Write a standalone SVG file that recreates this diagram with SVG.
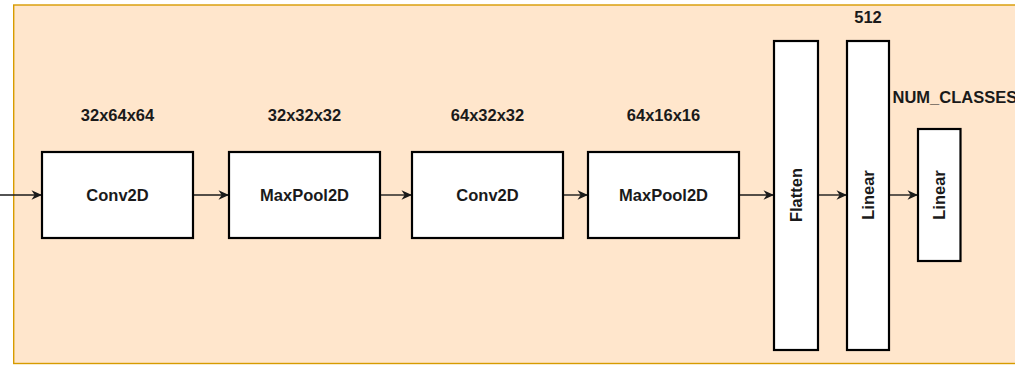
<svg xmlns="http://www.w3.org/2000/svg" width="1015" height="367" viewBox="0 0 1015 367">
  <style>
    .frame { fill: #ffe6cc; stroke: #d79b00; stroke-width: 1.4; }
    .layer { fill: #ffffff; stroke: #000000; stroke-width: 2.2; }
    .lbl { font-family: "Liberation Sans", Arial, Helvetica, sans-serif; font-size: 16.5px; font-weight: bold; fill: #1a1a1a; }
    .mid { text-anchor: middle; dominant-baseline: central; }
    .edge { fill: none; stroke: #1a1a1a; stroke-width: 1.4; marker-end: url(#arrow); }
  </style>
  <defs>
    <marker id="arrow" viewBox="0 0 10 10" refX="10" refY="5" markerWidth="11" markerHeight="10.5" markerUnits="userSpaceOnUse" orient="auto">
      <path d="M0,0.5 L10,5 L0,9.5 L3,5 Z" fill="#1a1a1a"/>
    </marker>
  </defs>

  <!-- background container -->
  <rect id="container" class="frame" x="13.7" y="5" width="1020" height="358.5"/>

  <!-- shape annotations -->
  <g id="shape-labels">
    <text class="lbl mid" x="117.5" y="115">32x64x64</text>
    <text class="lbl mid" x="304.5" y="115">32x32x32</text>
    <text class="lbl mid" x="487.5" y="115">64x32x32</text>
    <text class="lbl mid" x="663.5" y="115">64x16x16</text>
    <text class="lbl mid" x="868" y="17">512</text>
    <text class="lbl" x="892.5" y="97" dominant-baseline="central">NUM_CLASSES</text>
  </g>

  <!-- connectors -->
  <g id="connectors">
    <path class="edge" d="M0,195 L42,195"/>
    <path class="edge" d="M193,195 L229,195"/>
    <path class="edge" d="M380,195 L412,195"/>
    <path class="edge" d="M563,195 L588,195"/>
    <path class="edge" d="M739,195 L774,195"/>
    <path class="edge" d="M818,195 L847,195"/>
    <path class="edge" d="M889,195 L918,195"/>
  </g>

  <g id="conv1">
    <rect class="layer" x="42" y="152" width="151" height="86"/>
    <text class="lbl mid" x="117.5" y="195">Conv2D</text>
  </g>
  <g id="pool1">
    <rect class="layer" x="229" y="152" width="151" height="86"/>
    <text class="lbl mid" x="304.5" y="195">MaxPool2D</text>
  </g>
  <g id="conv2">
    <rect class="layer" x="412" y="152" width="151" height="86"/>
    <text class="lbl mid" x="487.5" y="195">Conv2D</text>
  </g>
  <g id="pool2">
    <rect class="layer" x="588" y="152" width="151" height="86"/>
    <text class="lbl mid" x="663.5" y="195">MaxPool2D</text>
  </g>
  <g id="flatten">
    <rect class="layer" x="774" y="41" width="44" height="309"/>
    <text class="lbl mid" transform="translate(796,195) rotate(-90)">Flatten</text>
  </g>
  <g id="linear1">
    <rect class="layer" x="847" y="41" width="42" height="309"/>
    <text class="lbl mid" transform="translate(868,195) rotate(-90)">Linear</text>
  </g>
  <g id="linear2">
    <rect class="layer" x="918" y="129" width="42.5" height="132"/>
    <text class="lbl mid" transform="translate(939.3,195) rotate(-90)">Linear</text>
  </g>
</svg>
